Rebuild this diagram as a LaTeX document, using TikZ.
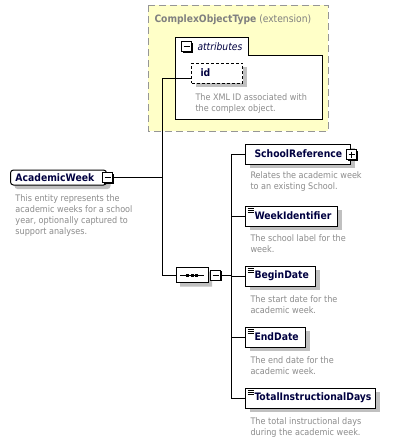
\documentclass[tikz,border=0pt]{standalone}
\usepackage{fontspec}
\setmainfont{DejaVu Sans Condensed}
\usetikzlibrary{shapes.misc}
\definecolor{navy}{RGB}{0,0,64}
\definecolor{descgray}{RGB}{140,140,140}
\definecolor{titlegray}{RGB}{128,128,128}
\definecolor{dashgray}{RGB}{150,150,150}
\definecolor{paleyellow}{RGB}{255,255,200}
\definecolor{shadowgray}{RGB}{192,192,192}
\begin{document}
\begin{tikzpicture}[x=1pt,y=-1pt,line width=1pt,
  boxshadow/.style={preaction={fill=shadowgray, draw=none, transform canvas={shift={(4pt,-4pt)}}}},
  elem/.style={draw, fill=white, boxshadow, anchor=west, minimum height=20pt,
    inner xsep=9pt, inner ysep=0pt, align=left, text=navy,
    font={\fontsize{10.3}{12}\selectfont\bfseries\hyphenpenalty=10000 }},
  doc/.style={path picture={
    \foreach \k in {2,4,6}
      \draw[black, line width=0.8pt] ([xshift=2pt,yshift=-\k pt]path picture bounding box.north west) -- ++(6pt,0pt);}},
  desc/.style={anchor=north west, inner sep=0pt, align=left, text=descgray,
    font=\fontsize{9}{11}\selectfont},
  tog/.style={draw, fill=white, minimum size=10pt, inner sep=0pt, line width=1pt,
    preaction={fill=black, draw=none, transform canvas={shift={(1pt,-1pt)}}}},
  minusbox/.style={tog, path picture={
    \draw[black, line width=1pt] ([xshift=2pt]path picture bounding box.west) -- ([xshift=-2pt]path picture bounding box.east);}},
  plusbox/.style={tog, path picture={
    \draw[black, line width=1pt] ([xshift=2pt]path picture bounding box.west) -- ([xshift=-2pt]path picture bounding box.east);
    \draw[black, line width=1pt] ([yshift=-2pt]path picture bounding box.north) -- ([yshift=2pt]path picture bounding box.south);}},
  conn/.style={draw, line width=1pt}
]
\fill[white] (0,0) rectangle (404,442);
\useasboundingbox (0,0) rectangle (404,442);

% extension container
\filldraw[draw=dashgray, dash pattern=on 7pt off 4pt, fill=paleyellow] (148,5) rectangle (328,131);
\node[anchor=base west, inner sep=0pt, text=titlegray, font=\fontsize{10.2}{12}\selectfont]
  (title) at (154,22) {\textbf{ComplexObjectType} (extension)};

% attributes group
\draw[fill=white] (175,37) -- (248,37) -- (248,55) -- (322,55) -- (322,119) -- (175,119) -- cycle;
\node[minusbox] (attm) at (186.5,46.5) {};
\node[anchor=west, inner sep=0pt, text=navy, font=\fontsize{10.2}{12}\selectfont\itshape]
  (attl) at (197,46.5) {attributes};
\node[draw, dash pattern=on 3pt off 2pt, fill=white, boxshadow, anchor=west, minimum height=20pt,
      inner xsep=9pt, inner ysep=0pt, text width=33pt, align=left, text=navy,
      font=\fontsize{10.3}{12}\selectfont\bfseries] (id) at (191,73) {id};
\node[desc] (iddesc) at (195,93) {The XML ID associated with\\the complex object.};

% root element
\node[elem, rounded corners=3pt, minimum height=15pt, inner xsep=5pt, text width=86pt]
  (aw) at (10,177.5) {AcademicWeek};
\node[minusbox] (awm) at (107.5,177.5) {};
\node[desc] (awdesc) at (15,194) {This entity represents the\\academic weeks for a school\\year, optionally captured to\\support analyses.};

% sequence compositor
\node[draw, fill=white, chamfered rectangle, chamfered rectangle xsep=4pt,
      minimum width=32pt, minimum height=15pt, inner sep=0pt, boxshadow,
      path picture={
        \draw[black, line width=1pt] ([xshift=4pt]path picture bounding box.west) -- ([xshift=-4pt]path picture bounding box.east);
        \foreach \d in {-4.2,0,4.2}
          \fill[black] ([xshift=\d pt]path picture bounding box.center) +(-1.5pt,-1.5pt) rectangle +(1.5pt,1.5pt);}]
  (seq) at (192,275) {};
\node[minusbox] (seqm) at (215.5,275) {};

% child elements
\node[elem, text width=87pt] (sr) at (245,154) {SchoolReference};
\node[plusbox] (srp) at (351.5,154.5) {};
\node[desc] (srdesc) at (250,171) {Relates the academic week\\to an existing School.};

\node[elem, doc, text width=74pt] (wi) at (245,216) {WeekIdentifier};
\node[desc] (widesc) at (250,234) {The school label for the\\week.};

\node[elem, doc, text width=52pt] (bd) at (245,276) {BeginDate};
\node[desc] (bddesc) at (250,295) {The start date for the\\academic week.};

\node[elem, doc, text width=42pt] (ed) at (245,337) {EndDate};
\node[desc] (eddesc) at (250,356) {The end date for the\\academic week.};

\node[elem, doc, text width=112pt] (tid) at (245,398) {TotalInstructionalDays};
\node[desc] (tiddesc) at (250,417) {The total instructional days\\during the academic week.};

% connectors
\coordinate (ja) at (162,78);
\coordinate (jc) at (231,154);
\draw[conn] (awm.east) -- (awm.east -| ja);
\draw[conn] (ja) -- (ja |- seq.west) -- (seq.west);
\draw[conn] (ja) -- (ja -| id.west);
\draw[conn] (seqm.east) -- (seqm.east -| jc);
\draw[conn] (jc |- sr.west) -- (jc |- tid.west);
\foreach \n in {sr,wi,bd,ed,tid}
  \draw[conn] (jc |- \n.west) -- (\n.west);
\end{tikzpicture}
\end{document}
